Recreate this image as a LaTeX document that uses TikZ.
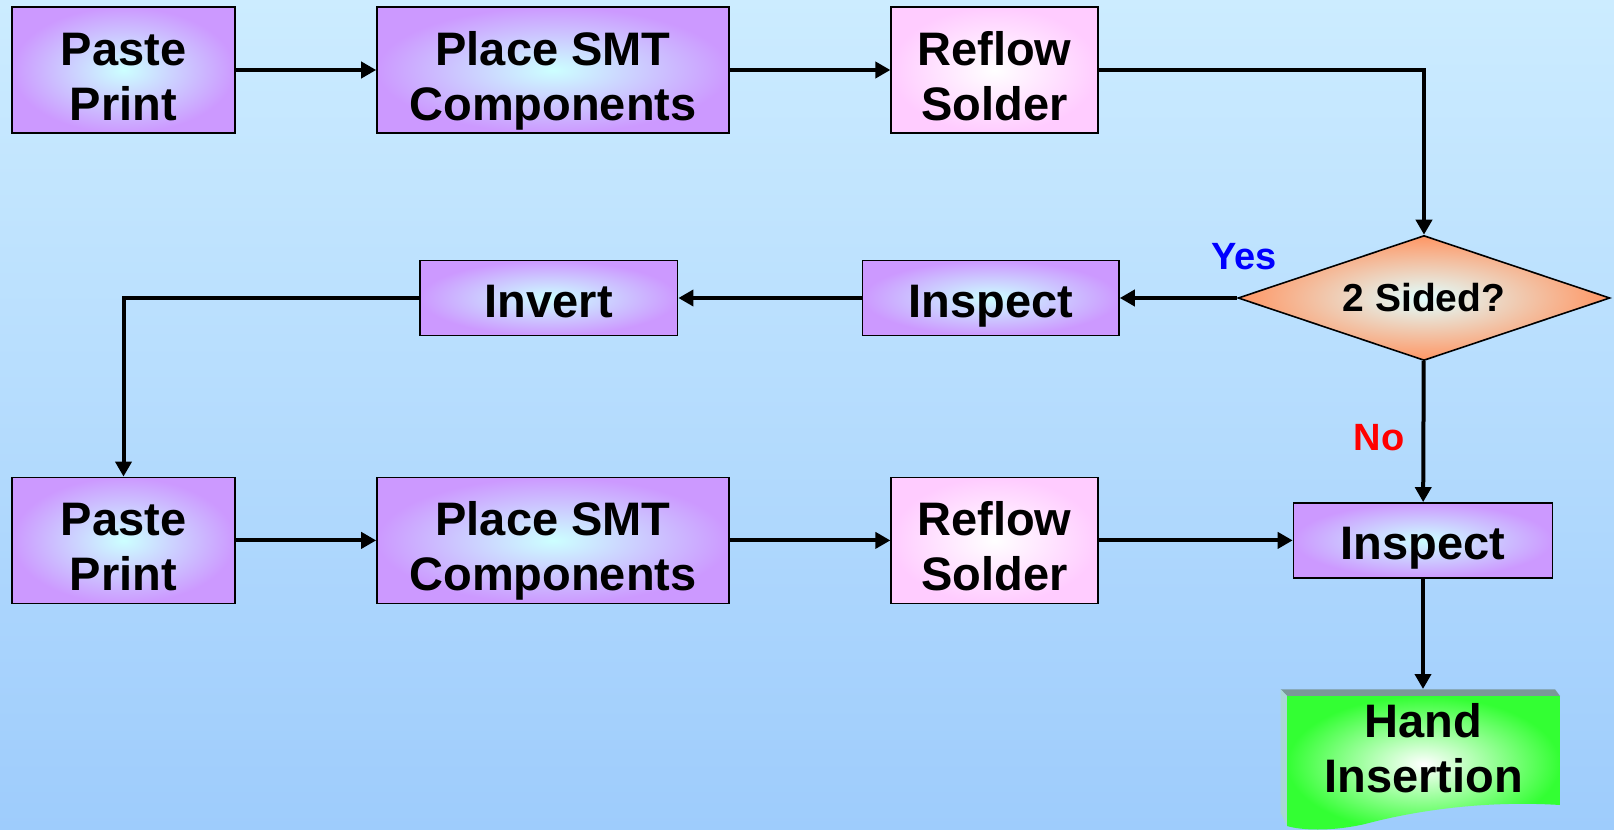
\documentclass[tikz,border=0pt]{standalone}
\usepackage{fontspec}
\setmainfont{Liberation Sans}
\usetikzlibrary{positioning,arrows.meta,shapes.geometric}

\definecolor{skytop}{RGB}{204,236,255}
\definecolor{skybot}{RGB}{158,204,252}
\definecolor{lilac}{RGB}{204,153,255}
\definecolor{icecyan}{RGB}{204,255,255}
\definecolor{rosepink}{RGB}{255,204,255}
\definecolor{salmon}{RGB}{255,150,100}
\definecolor{limegreen}{RGB}{51,255,51}
\definecolor{bevelgrey}{RGB}{122,152,152}
\definecolor{beveltint}{RGB}{168,214,214}

\begin{document}
\begin{tikzpicture}[
  x=0.5pt, y=-0.5pt,
  >={Triangle[length=7.5pt,width=8pt]},
  flow/.style={->, line width=2pt},
  % invisible strut so every label sits on the same baseline
  lift/.style={execute at begin node={\rule[-5pt]{0pt}{#1}}},
  box/.style={draw, thick, inner sep=0pt, align=center,
    inner color=icecyan, outer color=lilac,
    font=\fontsize{23.5}{27.5}\selectfont\bfseries},
  proc/.style={box, minimum height=63pt, lift=60pt},
  reflow/.style={proc, inner color=white, outer color=rosepink},
  check/.style={box, minimum height=37.5pt, lift=29pt},
  decision/.style={diamond, draw, thick, inner sep=0pt, aspect=2.98,
    minimum width=186pt, minimum height=62.5pt,
    inner color=icecyan!60!white, outer color=salmon,
    font=\fontsize{19.5}{23}\selectfont\bfseries},
  answer/.style={font=\fontsize{19}{22}\selectfont\bfseries}
]
% background
\fill[top color=skytop, bottom color=skybot] (0,0) rectangle (1614,830);
\useasboundingbox (0,0) rectangle (1614,830);

% first side
\node[proc, minimum width=111.3pt] (paste1) at (123.5,70) {Paste\\Print};
\node[proc, minimum width=176pt, right=70.3pt of paste1] (place1) {Place SMT\\Components};
\node[reflow, minimum width=103.3pt, right=80.3pt of place1] (reflow1) {Reflow\\Solder};

% decision and return path
\node[decision] (sided) at (1424,298) {2 Sided?};
\node[check, minimum width=128.2pt] (insp1) at (990.8,298) {Inspect};
\node[check, minimum width=128.8pt, left=91.7pt of insp1] (invert) {Invert};

% second side
\node[proc, minimum width=111.3pt] (paste2) at (123.5,540.4) {Paste\\Print};
\node[proc, minimum width=176pt, right=70.3pt of paste2] (place2) {Place SMT\\Components};
\node[reflow, minimum width=103.3pt, right=80.3pt of place2] (reflow2) {Reflow\\Solder};
\node[check, minimum width=129.5pt] (insp2) at (1423,540.4) {Inspect};

% hand insertion (document shape with bevel)
\coordinate (handtop) at (1423,689);
\fill[bevelgrey] (1280.7,689.3) -- (1555,689.3) -- (1560,696) -- (1287,696) -- cycle;
\fill[beveltint] (1280.7,689.3) -- (1287,696) -- (1287,826) -- (1280.7,813) -- cycle;
\shade[inner color=white, outer color=limegreen] (1287,696) -- (1560,696) -- (1560,805)
  .. controls (1480,800) and (1410,812) .. (1365,824)
  .. controls (1330,832) and (1300,830) .. (1287,826) -- cycle;
\node[align=center, font=\fontsize{23.5}{27.5}\selectfont\bfseries] (hand) at (1423.5,748) {Hand\\Insertion};

% connectors
\draw[flow] (paste1) -- (place1);
\draw[flow] (place1) -- (reflow1);
\draw[flow] (reflow1) -| (sided);
\draw[flow] (sided) -- (insp1);
\draw[flow] (insp1) -- (invert);
\draw[flow] (invert) -| (paste2);
\draw[flow] (paste2) -- (place2);
\draw[flow] (place2) -- (reflow2);
\draw[flow] (reflow2) -- (insp2);
\draw[flow] (sided) -- (insp2);
\draw[flow] (insp2) -- (handtop);

\node[answer, text=blue] (yes) at (1244,257) {Yes};
\node[answer, text=red] (no) at (1379,438) {No};
\end{tikzpicture}
\end{document}
